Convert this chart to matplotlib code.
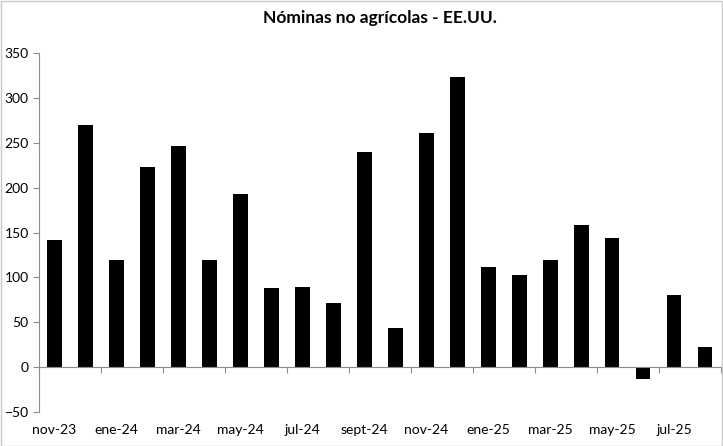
import matplotlib.pyplot as plt
from matplotlib.patches import Rectangle

plt.rcParams['font.family'] = ['Lato', 'DejaVu Sans']

meses = ['nov-23', 'dic-23', 'ene-24', 'feb-24', 'mar-24', 'abr-24', 'may-24',
         'jun-24', 'jul-24', 'ago-24', 'sept-24', 'oct-24', 'nov-24', 'dic-24',
         'ene-25', 'feb-25', 'mar-25', 'abr-25', 'may-25', 'jun-25', 'jul-25',
         'ago-25']
nominas = [142, 270, 120, 223, 246, 119, 193, 88, 89, 72, 240, 44, 261, 323,
           112, 103, 120, 158, 144, -13, 80, 23]

fig = plt.figure(figsize=(7.23, 4.46), dpi=100)
ax = fig.add_axes([0.054, 0.076, 0.943, 0.805])

x = list(range(len(meses)))
ax.bar(x, nominas, width=0.46, color='black')

ax.set_xlim(-0.5, len(meses) - 0.5)
ax.set_ylim(-50, 350)
ax.set_yticks(range(-50, 351, 50))

gris = '#8c8c8c'
for s in ['top', 'right']:
    ax.spines[s].set_visible(False)
ax.spines['left'].set_color(gris)
ax.spines['bottom'].set_color(gris)
ax.spines['bottom'].set_position(('data', 0))

# ticks between categories on the zero line, labels at the bottom
ax.set_xticks([i - 0.5 for i in range(0, len(meses) + 1, 2)])
ax.set_xticklabels([])
ax.tick_params(axis='x', which='major', length=4, color=gris)
ax.set_xticks(x[::2], minor=True)
ax.set_xticklabels(meses[::2], minor=True)
ax.tick_params(axis='x', which='minor', length=0, pad=41, labelsize=10)
ax.tick_params(axis='y', length=4, color=gris, labelsize=10)

ax.set_title('Nóminas no agrícolas - EE.UU.', fontsize=12.5, fontweight='bold',
             pad=22)

fig.patches.append(Rectangle((0.001, 0.001), 0.998, 0.996, transform=fig.transFigure,
                             fill=False, edgecolor='#c8c8c8', linewidth=1))

plt.savefig('out.png', dpi=100)
